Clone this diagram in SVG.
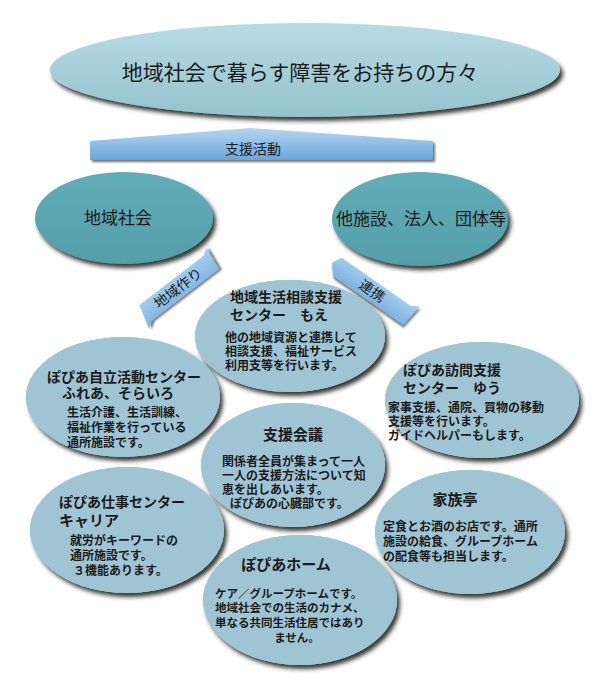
<svg xmlns="http://www.w3.org/2000/svg" xmlns:xlink="http://www.w3.org/1999/xlink" width="600" height="685" viewBox="0 0 600 685">
<style>
text{font-family:"Liberation Sans","Noto Sans CJK JP","Noto Sans CJK SC",sans-serif;fill:#1b1b1b}
.t{font-size:14px;font-weight:bold}
.b{font-size:12px;font-weight:bold}
.big{font-size:21px}
.mid{font-size:17px}
.fl{fill:#9fc5d5}
.teal{fill:url(#gTeal)}
</style>
<defs>
<filter id="sh" x="-20%" y="-20%" width="140%" height="150%">
<feDropShadow dx="3" dy="4" stdDeviation="2" flood-color="#24241c" flood-opacity="0.9"/>
</filter>
<filter id="shs" x="-20%" y="-40%" width="140%" height="180%">
<feDropShadow dx="2" dy="2" stdDeviation="1.2" flood-color="#333" flood-opacity="0.7"/>
</filter>
<linearGradient id="gTop" x1="0" y1="0" x2="0" y2="1">
<stop offset="0" stop-color="#b8dbe3"/>
<stop offset="1" stop-color="#94c3ce"/>
</linearGradient>
<linearGradient id="gTeal" x1="0" y1="0" x2="0" y2="1">
<stop offset="0" stop-color="#62adb8"/>
<stop offset="1" stop-color="#539ea9"/>
</linearGradient>
<linearGradient id="gBan" x1="0" y1="0" x2="0" y2="1">
<stop offset="0" stop-color="#b4d6f2"/>
<stop offset="1" stop-color="#6aa6da"/>
</linearGradient>
<linearGradient id="gArr" x1="0" y1="0" x2="0" y2="1">
<stop offset="0" stop-color="#a9d0f0"/>
<stop offset="1" stop-color="#7eb3e0"/>
</linearGradient>
<linearGradient id="gLineL" x1="0" y1="0" x2="1" y2="0">
<stop offset="0" stop-color="#666" stop-opacity="0"/>
<stop offset="0.35" stop-color="#555"/>
<stop offset="1" stop-color="#222"/>
</linearGradient>
<linearGradient id="gLineR" x1="0" y1="0" x2="1" y2="0">
<stop offset="0" stop-color="#222"/>
<stop offset="0.65" stop-color="#555"/>
<stop offset="1" stop-color="#666" stop-opacity="0"/>
</linearGradient>
<ellipse id="e-moe" cx="290" cy="336" rx="95" ry="56"/>
<ellipse id="e-fure" cx="123" cy="397" rx="97" ry="60"/>
<ellipse id="e-you" cx="482" cy="400" rx="97" ry="58"/>
<ellipse id="e-kaigi" cx="293" cy="465" rx="92" ry="62"/>
<ellipse id="e-career" cx="127" cy="530" rx="97" ry="63"/>
<ellipse id="e-kazoku" cx="470" cy="532" rx="95" ry="62"/>
<ellipse id="e-home" cx="300" cy="600" rx="97" ry="65"/>
</defs>
<rect width="600" height="685" fill="#ffffff"/>

<g id="top">
<ellipse cx="305" cy="70" rx="255" ry="47" fill="url(#gTop)" filter="url(#sh)"/>
<text class="big" x="300" y="80" text-anchor="middle">地域社会で暮らす障害をお持ちの方々</text>
</g>

<g id="banner">
<line x1="22" y1="144" x2="92" y2="144" stroke="url(#gLineL)" stroke-width="2.5"/>
<line x1="431" y1="146" x2="502" y2="146" stroke="url(#gLineR)" stroke-width="2.5"/>
<polygon points="90,141 250,128 433,141 433,160 90,160" fill="url(#gBan)" filter="url(#shs)"/>
<text x="253" y="154" text-anchor="middle" style="font-size:14px">支援活動</text>
</g>

<g id="chiiki">
<ellipse cx="124" cy="218" rx="89" ry="46" class="teal" filter="url(#sh)"/>
<text class="mid" x="118" y="224" text-anchor="middle">地域社会</text>
</g>

<g id="tashisetsu">
<ellipse cx="420" cy="219" rx="88" ry="47" class="teal" filter="url(#sh)"/>
<text class="mid" x="421" y="225" text-anchor="middle">他施設、法人、団体等</text>
</g>

<g id="connectors">
<g transform="translate(178,288) rotate(-37.5)">
<polygon points="-41,-10 40,-10 47,-15 44,10 -41,10 -48,15" fill="url(#gArr)" filter="url(#shs)"/>
<text x="0" y="5" text-anchor="middle" style="font-size:14px">地域作り</text>
</g>
<g transform="translate(372,291) rotate(35)">
<polygon points="-44,-10 40,-10 48,-15 45,10 -40,10 -49,0" fill="url(#gArr)" filter="url(#shs)"/>
<text x="0" y="5" text-anchor="middle" style="font-size:14px">連携</text>
</g>
</g>

<g id="flower-shadow" filter="url(#sh)" class="fl">
<use xlink:href="#e-moe"/>
<use xlink:href="#e-fure"/>
<use xlink:href="#e-you"/>
<use xlink:href="#e-career"/>
<use xlink:href="#e-kazoku"/>
<use xlink:href="#e-home"/>
<use xlink:href="#e-kaigi"/>
</g>

<g id="moe">
<use xlink:href="#e-moe" class="fl"/>
<text class="t"><tspan x="230" y="302">地域生活相談支援</tspan><tspan x="230" y="320">センター　もえ</tspan></text>
<text class="b"><tspan x="225" y="342">他の地域資源と連携して</tspan><tspan x="225" y="356">相談支援、福祉サービス</tspan><tspan x="225" y="370">利用支等を行います。</tspan></text>
</g>

<g id="fureai">
<use xlink:href="#e-fure" class="fl"/>
<text class="t"><tspan x="47" y="382">ぽぴあ自立活動センター</tspan><tspan x="62" y="398">ふれあ、そらいろ</tspan></text>
<text class="b"><tspan x="67" y="417">生活介護、生活訓練、</tspan><tspan x="67" y="432">福祉作業を行っている</tspan><tspan x="67" y="447">通所施設です。</tspan></text>
</g>

<g id="you">
<use xlink:href="#e-you" class="fl"/>
<text class="t"><tspan x="403" y="375">ぽぴあ訪問支援</tspan><tspan x="403" y="393">センター　ゆう</tspan></text>
<text class="b"><tspan x="388" y="412">家事支援、通院、買物の移動</tspan><tspan x="388" y="426">支援等を行います。</tspan><tspan x="388" y="440">ガイドヘルパーもします。</tspan></text>
</g>

<g id="career">
<use xlink:href="#e-career" class="fl"/>
<text class="t"><tspan x="59" y="507">ぽぴあ仕事センター</tspan><tspan x="59" y="526" style="font-size:15px">キャリア</tspan></text>
<text class="b"><tspan x="70" y="545">就労がキーワードの</tspan><tspan x="70" y="560">通所施設です。</tspan><tspan x="73" y="575">３機能あります。</tspan></text>
</g>

<g id="kazoku">
<use xlink:href="#e-kazoku" class="fl"/>
<text class="t" x="455" y="505" text-anchor="middle" style="font-size:15px">家族亭</text>
<text class="b"><tspan x="383" y="531">定食とお酒のお店です。通所</tspan><tspan x="383" y="546">施設の給食、グループホーム</tspan><tspan x="383" y="561">の配食等も担当します。</tspan></text>
</g>

<g id="home">
<use xlink:href="#e-home" class="fl"/>
<text class="t" x="286" y="570" text-anchor="middle" style="font-size:15px">ぽぴあホーム</text>
<text class="b" style="font-size:11.5px"><tspan x="215" y="598">ケア／グループホームです。</tspan><tspan x="215" y="612">地域社会での生活のカナメ、</tspan><tspan x="215" y="627">単なる共同生活住居ではあり</tspan><tspan x="297" y="642" text-anchor="middle">ません。</tspan></text>
</g>

<g id="kaigi">
<use xlink:href="#e-kaigi" class="fl"/>
<text class="t" x="293" y="440" text-anchor="middle" style="font-size:15px">支援会議</text>
<text class="b"><tspan x="222" y="466">関係者全員が集まって一人</tspan><tspan x="222" y="480">一人の支援方法について知</tspan><tspan x="222" y="494">恵を出しあいます。</tspan><tspan x="230" y="508">ぽぴあの心臓部です。</tspan></text>
</g>
</svg>
